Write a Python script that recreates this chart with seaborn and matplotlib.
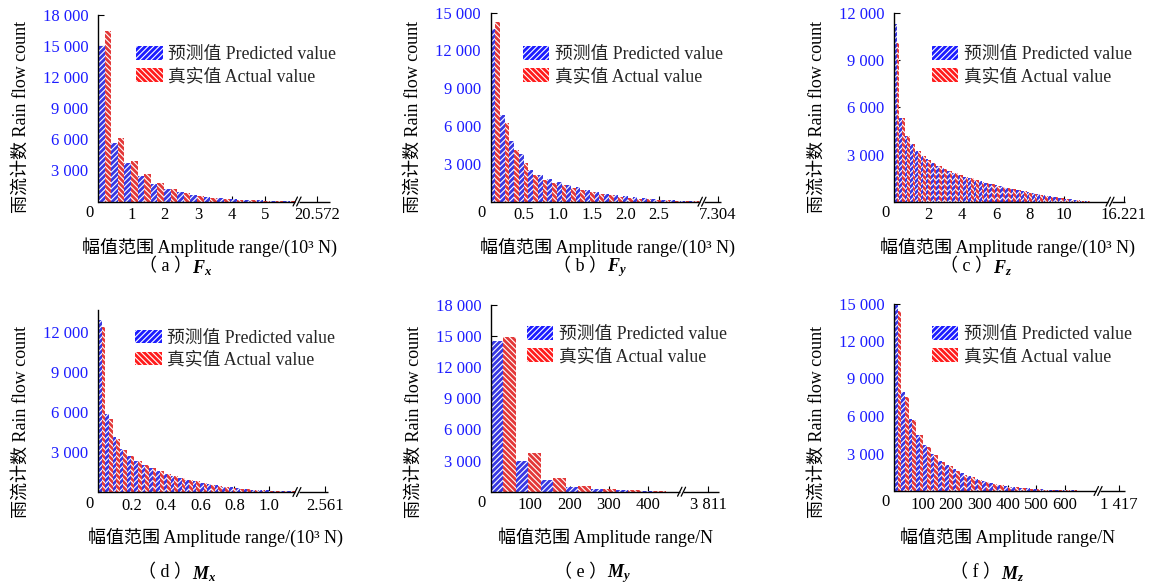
import numpy as np
import pandas as pd
import matplotlib
matplotlib.use("Agg")
import matplotlib.pyplot as plt
import seaborn as sns
from matplotlib.patches import Patch

# ---------------------------------------------------------------- data
SERIES = ["预测值 Predicted value", "真实值 Actual value"]

# Fx, 10^3 N
fx_range = 20.572
fx_bins = 52
fx_pred = [15000, 5600, 3700, 2450, 1700, 1220, 900, 620, 420, 300, 200, 160, 100, 60, 50]
fx_true = [16500, 6100, 3950, 2650, 1750, 1180, 820, 560, 360, 260, 190, 130, 90, 60, 40]

# Fy, 10^3 N
fy_range = 7.304
fy_bins = 52
fy_pred = [13700, 6900, 4800, 3800, 2550, 2100, 1800, 1600, 1350, 1150, 950,
           800, 650, 550, 450, 350, 280, 220, 170, 120, 90, 60]
fy_true = [14300, 6250, 4100, 3050, 2100, 1750, 1500, 1300, 1100, 900, 750,
           620, 500, 400, 320, 250, 200, 160, 120, 90, 60, 40]

# Fz, 10^3 N
fz_range = 16.221
fz_bins = 52
fz_pred = [11300, 5350, 4150, 3650, 3250, 2930, 2690, 2480, 2300, 2130, 1980,
           1850, 1720, 1600, 1500, 1400, 1300, 1210, 1130, 1050, 970, 890,
           810, 740, 670, 600, 530, 460, 400, 340, 280, 230, 180, 140, 100, 70, 50]
fz_true = [10100, 5300, 4180, 3640, 3230, 2900, 2660, 2450, 2270, 2100, 1960,
           1830, 1700, 1580, 1480, 1380, 1280, 1190, 1110, 1030, 950, 870,
           790, 720, 650, 580, 510, 440, 380, 320, 270, 220, 170, 130, 95, 65, 45]

# Mx, 10^3 N
mx_range = 2.561
mx_bins = 60
mx_pred = [12900, 5850, 4150, 3200, 2700, 2300, 2050, 1800, 1550, 1380, 1230,
           1060, 930, 810, 690, 570, 490, 410, 340, 280, 230, 180, 150, 120,
           100, 75, 50]
mx_true = [12400, 5500, 3950, 3150, 2700, 2300, 2040, 1790, 1540, 1360, 1210,
           1040, 910, 790, 660, 540, 460, 380, 310, 260, 210, 170, 140, 110,
           90, 70, 45]

# My, N
my_range = 3811
my_bins = 60
my_pred = [14500, 2950, 1100, 430, 220, 130, 70]
my_true = [14950, 3700, 1300, 580, 300, 160, 100]

# Mz, N
mz_range = 1417
mz_bins = 55
mz_pred = [14900, 7900, 5800, 4500, 3700, 2960, 2430, 2110, 1790, 1470, 1200,
           960, 800, 640, 510, 400, 320, 270, 210, 160, 130, 110, 80, 60, 50, 40, 30]
mz_true = [14400, 7500, 5700, 4450, 3550, 2850, 2320, 1970, 1630, 1310, 1090,
           880, 720, 590, 450, 350, 290, 240, 190, 150, 120, 100, 80, 60, 45, 35, 30]

# tick values / labels
fx_ticks = [1, 2, 3, 4, 5]
fy_ticks = [0.5, 1.0, 1.5, 2.0, 2.5]
fz_ticks = [2, 4, 6, 8, 10]
mx_ticks = [0.2, 0.4, 0.6, 0.8, 1.0]
my_ticks = [100, 200, 300, 400]
mz_ticks = [100, 200, 300, 400, 500, 600]
fx_tick_labels = ["1", "2", "3", "4", "5"]
fy_tick_labels = ["0.5", "1.0", "1.5", "2.0", "2.5"]
fz_tick_labels = ["2", "4", "6", "8", "10"]
mx_tick_labels = ["0.2", "0.4", "0.6", "0.8", "1.0"]
my_tick_labels = ["100", "200", "300", "400"]
mz_tick_labels = ["100", "200", "300", "400", "500", "600"]
fx_max_label = "20.572"
fy_max_label = "7.304"
fz_max_label = "16.221"
mx_max_label = "2.561"
my_max_label = "3 811"
mz_max_label = "1 417"

count_ticks_18k = [3000, 6000, 9000, 12000, 15000, 18000]
count_ticks_15k = [3000, 6000, 9000, 12000, 15000]
count_ticks_12k = [3000, 6000, 9000, 12000]

# ---------------------------------------------------------------- style
BLUE = "#1c1cff"
RED = "#ff1c1c"
COLORS = [BLUE, RED]
HATCHES = ["//////", "\\\\\\\\\\\\"]

sns.set_theme(style="ticks")
plt.rcParams["font.family"] = ["Liberation Serif", "Noto Sans CJK SC"]
plt.rcParams["mathtext.fontset"] = "custom"
plt.rcParams["mathtext.rm"] = "Liberation Serif"
plt.rcParams["mathtext.it"] = "Liberation Serif:italic:bold"
plt.rcParams["hatch.linewidth"] = 0.8
plt.rcParams["hatch.color"] = "white"

W, H = 1153, 588
fig = plt.figure(figsize=(W / 100, H / 100), dpi=100)
fig.patch.set_facecolor("white")


def fxp(x):
    return x / W


def fyp(y):
    return 1 - y / H


XLAB_KN = "幅值范围 Amplitude range/(10³ N)"
XLAB_N = "幅值范围 Amplitude range/N"
YLAB = "雨流计数 Rain flow count"

# box = (left, top, right, bottom) in pixels; x positions in data units
panels = [
    dict(pred=fx_pred, true=fx_true, rng=fx_range, bins=fx_bins,
         ticks=fx_ticks, tlabels=fx_tick_labels, maxlab=fx_max_label,
         box=(98, 15, 330, 201.5), xend=6.946, xbreak=5.96, xlast=6.57,
         ytop=18000, yticks=count_ticks_18k, xlabel=XLAB_KN,
         tag="（ a ）", sym="$F_x$", capx=192, capy=267,
         xlx=209, xly=247, yly=117, leg=(136, 53)),
    dict(pred=fy_pred, true=fy_true, rng=fy_range, bins=fy_bins,
         ticks=fy_ticks, tlabels=fy_tick_labels, maxlab=fy_max_label,
         box=(490.5, 12.7, 721, 201.7), xend=3.42, xbreak=3.138, xlast=3.375,
         ytop=15000, yticks=count_ticks_15k, xlabel=XLAB_KN,
         tag="（ b ）", sym="$F_y$", capx=607, capy=267,
         xlx=607, xly=247, yly=117, leg=(522.7, 53)),
    dict(pred=fz_pred, true=fz_true, rng=fz_range, bins=fz_bins,
         ticks=fz_ticks, tlabels=fz_tick_labels, maxlab=fz_max_label,
         box=(894, 13, 1125.3, 201.7), xend=13.6, xbreak=12.7, xlast=13.5,
         ytop=12000, yticks=count_ticks_12k, xlabel=XLAB_KN,
         tag="（ c ）", sym="$F_z$", capx=993, capy=267,
         xlx=1007, xly=247, yly=117, leg=(931.7, 53)),
    dict(pred=mx_pred, true=mx_true, rng=mx_range, bins=mx_bins,
         ticks=mx_ticks, tlabels=mx_tick_labels, maxlab=mx_max_label,
         box=(98, 310, 328.5, 492), xend=1.351, xbreak=1.166, xlast=1.328,
         ytop=13650, yticks=count_ticks_12k, xlabel=XLAB_KN,
         tag="（ d ）", sym="$M_x$", capx=192, capy=573,
         xlx=216, xly=537.5, yly=422, leg=(135, 336.7)),
    dict(pred=my_pred, true=my_true, rng=my_range, bins=my_bins,
         ticks=my_ticks, tlabels=my_tick_labels, maxlab=my_max_label,
         box=(491, 305, 719.3, 491.7), xend=581, xbreak=485, xlast=553,
         ytop=18000, yticks=count_ticks_18k, xlabel=XLAB_N,
         tag="（ e ）", sym="$M_y$", capx=607, capy=573,
         xlx=606, xly=537.5, yly=422, leg=(526.7, 333)),
    dict(pred=mz_pred, true=mz_true, rng=mz_range, bins=mz_bins,
         ticks=mz_ticks, tlabels=mz_tick_labels, maxlab=mz_max_label,
         box=(894, 303.5, 1124.7, 491), xend=810, xbreak=716.5, xlast=790,
         ytop=15000, yticks=count_ticks_15k, xlabel=XLAB_N,
         tag="（ f ）", sym="$M_z$", capx=1001, capy=573,
         xlx=1007, xly=537.5, yly=422, leg=(931.7, 333)),
]

FS = 12
LEGFS = 12.8
LFS = 13

for p in panels:
    l, t, r, b = p["box"]
    ax = fig.add_axes([fxp(l), fyp(b), (r - l) / W, (b - t) / H])
    ax.set_facecolor("white")

    n = len(p["pred"])
    width = p["rng"] / p["bins"]
    centers = (np.arange(n) + 0.5) * width
    df = pd.DataFrame({
        "amp": np.concatenate([centers, centers]),
        "count": list(p["pred"]) + list(p["true"]),
        "series": [SERIES[0]] * n + [SERIES[1]] * n,
    })
    sns.barplot(data=df, x="amp", y="count", hue="series", hue_order=SERIES,
                palette=dict(zip(SERIES, COLORS)), native_scale=True,
                width=1.0, gap=0, errorbar=None, edgecolor="white",
                linewidth=0, legend=False, ax=ax)
    for cont, hatch in zip(ax.containers, HATCHES):
        for bar in cont:
            bar.set_hatch(hatch)
            bar.set_edgecolor("white")
            bar.set_linewidth(0)

    ax.set_xlim(0, p["xend"])
    ax.set_ylim(0, p["ytop"])
    ax.set_xlabel("")
    ax.set_ylabel("")

    ax.set_xticks(list(p["ticks"]) + [p["xlast"]])
    ax.set_xticklabels(list(p["tlabels"]) + [p["maxlab"]])
    ax.set_yticks(p["yticks"])
    ax.set_yticklabels([f"{v:,}".replace(",", " ") for v in p["yticks"]])
    ax.tick_params(axis="both", direction="in", length=4, width=0.8,
                   color="black", labelsize=FS)
    ax.tick_params(axis="y", labelcolor=BLUE, pad=7)
    ax.tick_params(axis="x", labelcolor="black", pad=4)

    for s in ("top", "right", "bottom"):
        ax.spines[s].set_visible(False)
    ax.spines["left"].set_color("black")
    ax.spines["left"].set_linewidth(1.0)

    # broken x axis
    ax_w = r - l
    ax_h = b - t
    ppu = ax_w / p["xend"]
    gap = 1.8 / ppu
    dx = 2.2 / ppu
    dy = 4.5 / ax_h
    tr = ax.get_xaxis_transform()
    xb = p["xbreak"]
    ax.plot([0, xb - gap], [0, 0], transform=tr, color="black", lw=1.0,
            clip_on=False, solid_capstyle="butt")
    ax.plot([xb + gap, p["xend"]], [0, 0], transform=tr, color="black",
            lw=1.0, clip_on=False, solid_capstyle="butt")
    for c in (xb - gap, xb + gap):
        ax.plot([c - dx, c + dx], [-dy, dy], transform=tr, color="black",
                lw=0.9, clip_on=False)

    # origin label
    fig.text(fxp(l - 9), fyp(b + 11.5), "0", fontsize=FS, ha="center",
             va="center", color="black")

    # axis titles
    fig.text(fxp(p["xlx"]), fyp(p["xly"]), p["xlabel"], fontsize=LFS,
             ha="center", va="center", color="black")
    fig.text(fxp(l - 77), fyp(p["yly"]), YLAB, fontsize=LFS, rotation=90,
             ha="center", va="center", color="black")

    # sub-figure caption: tag then symbol
    fig.text(fxp(p["capx"]), fyp(p["capy"]), p["tag"], fontsize=LFS,
             ha="right", va="center", color="black")
    fig.text(fxp(p["capx"]), fyp(p["capy"] + 1), p["sym"], fontsize=LFS,
             ha="left", va="center", color="black")

    handles = [Patch(facecolor=c, edgecolor="white", hatch=h, linewidth=0)
               for c, h in zip(COLORS, HATCHES)]
    lx, ly = p["leg"]
    ax.legend(handles, SERIES, loc="upper left",
              bbox_to_anchor=(fxp(lx), fyp(ly - 7)),
              bbox_transform=fig.transFigure, frameon=False, fontsize=LEGFS,
              borderpad=0, borderaxespad=0, handlelength=1.5,
              handleheight=0.8, handletextpad=0.3, labelspacing=0.28)

fig.savefig("out.png", dpi=100, facecolor="white")
